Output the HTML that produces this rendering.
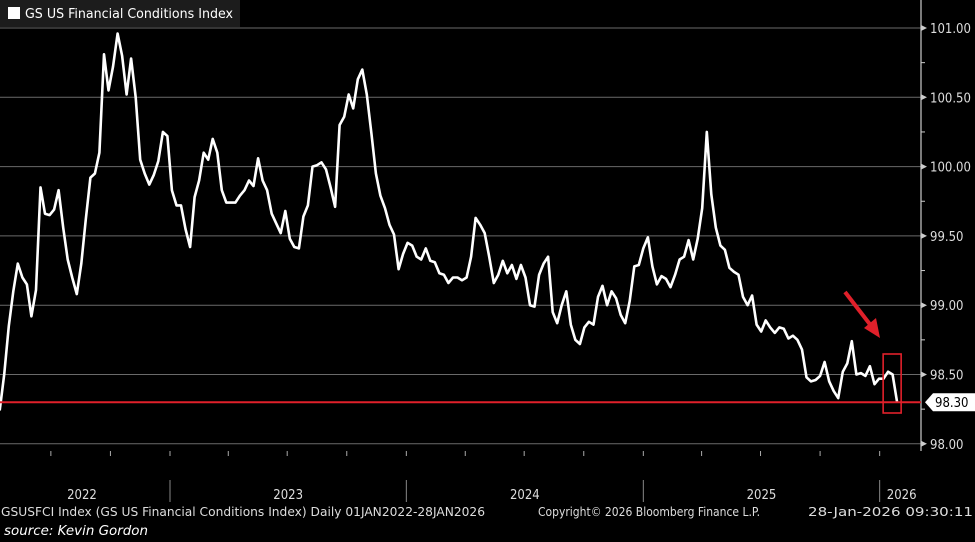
<!DOCTYPE html>
<html><head><meta charset="utf-8"><style>
html,body{margin:0;padding:0;background:#000;}
body{width:975px;height:542px;overflow:hidden;position:relative;font-family:"DejaVu Sans Condensed","Liberation Sans Narrow","Liberation Sans",sans-serif;}
svg{position:absolute;left:0;top:0;}
</style></head><body>
<svg id="chart" width="975" height="542" xmlns="http://www.w3.org/2000/svg">
<rect x="0" y="0" width="975" height="542" fill="#000"/>
<g id="grid"></g>
<g id="yaxis"></g>
<g id="xaxis"></g>
<path id="line" fill="none" stroke="#fff" stroke-width="2.6" stroke-linejoin="round"/>
<g id="annot"></g>
<g>
<rect x="0" y="0" width="240" height="27" fill="#1c1c1c"/>
<rect x="8" y="7" width="12" height="12" fill="#fff"/>
<text x="25" y="18" fill="#fff" font-size="13" textLength="208" lengthAdjust="spacingAndGlyphs">GS US Financial Conditions Index</text>
</g>
<text x="1" y="516" fill="#ddd" font-size="12.5" textLength="484" lengthAdjust="spacingAndGlyphs">GSUSFCI Index (GS US Financial Conditions Index) Daily 01JAN2022-28JAN2026</text>
<text x="538" y="516" fill="#ddd" font-size="12.5" textLength="222" lengthAdjust="spacingAndGlyphs">Copyright© 2026 Bloomberg Finance L.P.</text>
<text x="808" y="516" fill="#ddd" font-size="12.5" textLength="165" lengthAdjust="spacingAndGlyphs">28-Jan-2026 09:30:11</text>
<text x="4" y="535" fill="#fff" font-size="13.5" font-style="italic" textLength="144" lengthAdjust="spacingAndGlyphs">source: Kevin Gordon</text>
</svg>
<script>
const startDate = "2022-04-13";
const stepDays = 7;
const values = [98.24,98.50,98.85,99.10,99.30,99.20,99.15,98.92,99.11,99.85,99.66,99.65,99.69,99.83,99.56,99.33,99.20,99.08,99.30,99.62,
99.92,99.95,100.10,100.81,100.55,100.72,100.96,100.80,100.52,100.78,100.50,100.05,99.95,99.87,99.94,100.04,100.25,100.22,99.83,99.72,
99.72,99.55,99.42,99.78,99.90,100.10,100.05,100.20,100.10,99.83,99.74,99.74,99.74,99.79,99.83,99.90,99.86,100.06,99.90,99.83,
99.66,99.59,99.52,99.68,99.48,99.42,99.41,99.64,99.72,100.00,100.01,100.03,99.98,99.85,99.71,100.30,100.36,100.52,100.42,100.63,
100.70,100.52,100.24,99.95,99.79,99.70,99.58,99.51,99.26,99.37,99.45,99.43,99.35,99.33,99.41,99.32,99.31,99.23,99.22,99.16,
99.20,99.20,99.18,99.20,99.35,99.63,99.58,99.52,99.35,99.16,99.22,99.32,99.23,99.29,99.19,99.29,99.20,99.00,98.99,99.22,
99.30,99.35,98.95,98.87,99.00,99.10,98.86,98.75,98.72,98.84,98.88,98.86,99.06,99.14,99.00,99.10,99.05,98.93,98.87,99.03,
99.28,99.29,99.41,99.49,99.28,99.15,99.21,99.19,99.13,99.22,99.33,99.35,99.47,99.33,99.48,99.70,100.25,99.80,99.56,99.43,
99.40,99.27,99.24,99.22,99.06,99.00,99.07,98.86,98.81,98.89,98.84,98.80,98.84,98.83,98.76,98.78,98.75,98.68,98.48,98.45,
98.46,98.49,98.59,98.45,98.38,98.33,98.52,98.58,98.74,98.50,98.51,98.49,98.56,98.43,98.47,98.47,98.52,98.50,98.30];
const yTicks = [98.00,98.50,99.00,99.50,100.00,100.50,101.00];
const yTickLabels = ["98.00","98.50","99.00","99.50","100.00","100.50","101.00"];
const yearLabels = ["2022","2023","2024","2025","2026"];
const yearStarts = ["2023-01-01","2024-01-01","2025-01-01","2026-01-01"];
const lastValue = 98.30;

const NS="http://www.w3.org/2000/svg";
const X0=170, PXY=236.5, AXX=921;
const ref=Date.UTC(2023,0,1);
function xs(ms){return X0+(ms-ref)/(365.25*864e5)*PXY;}
function ys(v){return 28+(101-v)*138.6;}
function parse(s){const p=s.split('-');return Date.UTC(+p[0],+p[1]-1,+p[2]);}
function mk(tag,attrs,parent){const e=document.createElementNS(NS,tag);for(const k in attrs)e.setAttribute(k,attrs[k]);parent.appendChild(e);return e;}

const grid=document.getElementById('grid'), ya=document.getElementById('yaxis'), xa=document.getElementById('xaxis'), an=document.getElementById('annot');
yTicks.forEach((v,i)=>{
  const y=ys(v);
  const g=mk('line',{x1:0,x2:AXX,y1:y,y2:y,stroke:'#6a6a6a','stroke-width':1},grid);
  
  
  const t=mk('path',{d:`M${AXX} ${y-3}L${AXX+6} ${y}L${AXX} ${y+3}Z`,fill:'#ccc'},ya);
  
  
  const l=mk('text',{x:AXX+9,y:y+5,fill:'#ddd','font-size':13},ya);
  l.textContent=yTickLabels[i];
  
  
  if(i<yTicks.length-1){const ym=ys(v+0.25);const m=mk('line',{x1:AXX,x2:AXX+4,y1:ym,y2:ym,stroke:'#ccc'},ya);
    
    }
});
const ax=mk('line',{x1:AXX,x2:AXX,y1:0,y2:451,stroke:'#ccc','stroke-width':1.2},ya);


for(let yr=2022;yr<=2026;yr++){for(let q=0;q<12;q+=3){const x=xs(Date.UTC(yr,q,1));if(x<0||x>AXX)continue;
  const t=mk('line',{x1:x,x2:x,y1:451,y2:456,stroke:'#aaa'},xa);
  
  }}
const starts=yearStarts.map(parse);
starts.forEach(ms=>{const x=xs(ms);const s=mk('line',{x1:x,x2:x,y1:480,y2:502,stroke:'#888'},xa);
  
  });
yearLabels.forEach((lab,i)=>{
  let cx;
  if(i===0) cx=82; else if(i<starts.length) cx=(xs(starts[i-1])+xs(starts[i]))/2; else cx=xs(starts[i-1])+22;
  const t=mk('text',{x:cx,y:499,fill:'#ddd','font-size':13,'text-anchor':'middle'},xa);
  t.textContent=lab;
  
  
});
const s0=parse(startDate);
let d='';
values.forEach((v,i)=>{const x=xs(s0+i*stepDays*864e5);d+=(i?'L':'M')+x.toFixed(1)+' '+ys(v).toFixed(1);});
document.getElementById('line').setAttribute('d',d);
const yl=ys(lastValue);
const rl=mk('line',{x1:0,x2:AXX,y1:yl,y2:yl,stroke:'#e0202a','stroke-width':2},an);


const lb=mk('path',{d:`M${AXX+4} ${yl}L${AXX+12} ${yl-9}L975 ${yl-9}L975 ${yl+9}L${AXX+12} ${yl+9}Z`,fill:'#fff'},an);


const lt=mk('text',{x:AXX+14,y:yl+5,fill:'#000','font-size':13},an);
lt.textContent=lastValue.toFixed(2);


const lastX=xs(s0+(values.length-1)*stepDays*864e5);
const bx=mk('rect',{x:lastX-14,y:354,width:18,height:59,fill:'none',stroke:'#e0202a','stroke-width':1.6},an);


const ar=mk('line',{x1:845,y1:292,x2:872,y2:327,stroke:'#e0202a','stroke-width':4},an);


const ah=mk('path',{d:'M880 338L864 328L876 318Z',fill:'#e0202a'},an);


</script>
</body></html>
